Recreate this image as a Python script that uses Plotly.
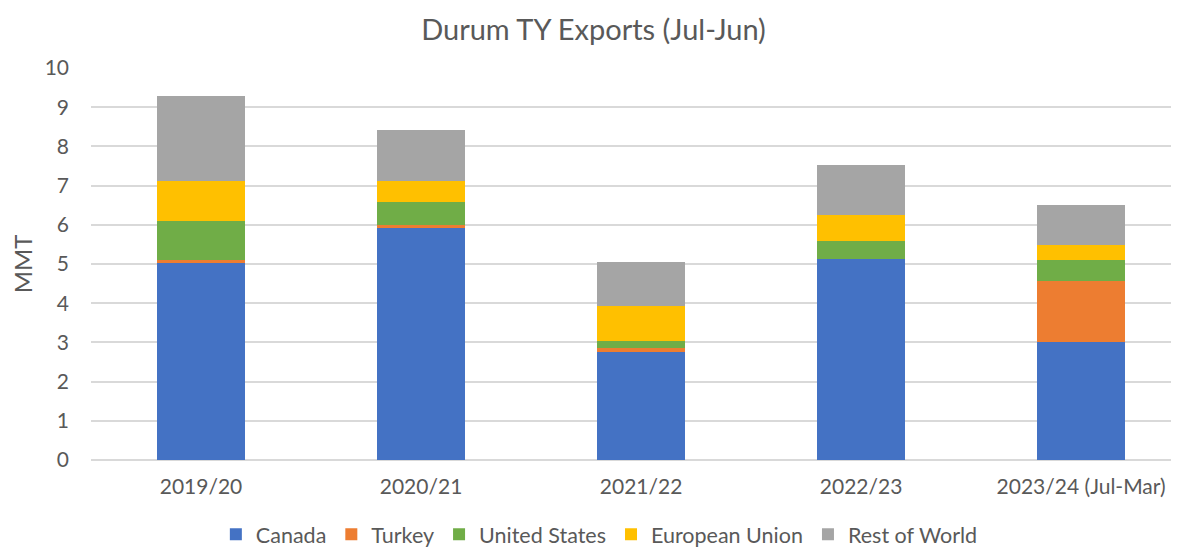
import plotly.graph_objects as go

categories = ["2019/20", "2020/21", "2021/22", "2022/23", "2023/24 (Jul-Mar)"]
canada = [5.03, 5.94, 2.76, 5.13, 3.01]
turkey = [0.06, 0.05, 0.10, 0.01, 1.56]
united_states = [1.01, 0.58, 0.18, 0.45, 0.54]
european_union = [1.01, 0.56, 0.90, 0.65, 0.38]
rest_of_world = [2.18, 1.30, 1.12, 1.29, 1.02]

series = [
    ("Canada", canada, "#4472C4"),
    ("Turkey", turkey, "#ED7D31"),
    ("United States", united_states, "#70AD47"),
    ("European Union", european_union, "#FFC000"),
    ("Rest of World", rest_of_world, "#A5A5A5"),
]

fig = go.Figure()
for name, vals, color in series:
    fig.add_trace(go.Bar(x=categories, y=vals, name=name, width=0.4,
                         marker=dict(color=color, line=dict(width=0))))

font_family = "Lato, 'Open Sans', sans-serif"
fig.update_layout(
    barmode="stack",
    width=1171, height=541,
    margin=dict(l=83, r=0, t=60, b=89, autoexpand=False),
    paper_bgcolor="white", plot_bgcolor="white",
    font=dict(family=font_family, color="#595959", size=21),
    title=dict(text="Durum TY Exports (Jul-Jun)", x=0.5, xanchor="center",
               y=0.959, yanchor="middle", font=dict(size=29, color="#595959")),
    legend=dict(orientation="h", xref="container", x=0.505, xanchor="center",
                yref="container", y=0.027, yanchor="middle",
                font=dict(size=21.5, color="#595959"), traceorder="normal",
                itemwidth=30),
    xaxis=dict(range=[-0.5, 4.445], showgrid=False, showline=False, ticks="",
               tickfont=dict(size=21, color="#595959"), ticklabelstandoff=12),
    yaxis=dict(range=[0, 10], dtick=1, showgrid=True, gridcolor="#D9D9D9", gridwidth=1.5,
               zeroline=True, zerolinecolor="#D9D9D9", zerolinewidth=1.5,
               tickfont=dict(size=21, color="#595959"), ticklabelstandoff=21,
               title=dict(text="MMT", font=dict(size=24, color="#595959"), standoff=12)),
)

fig.write_html("out.html")
